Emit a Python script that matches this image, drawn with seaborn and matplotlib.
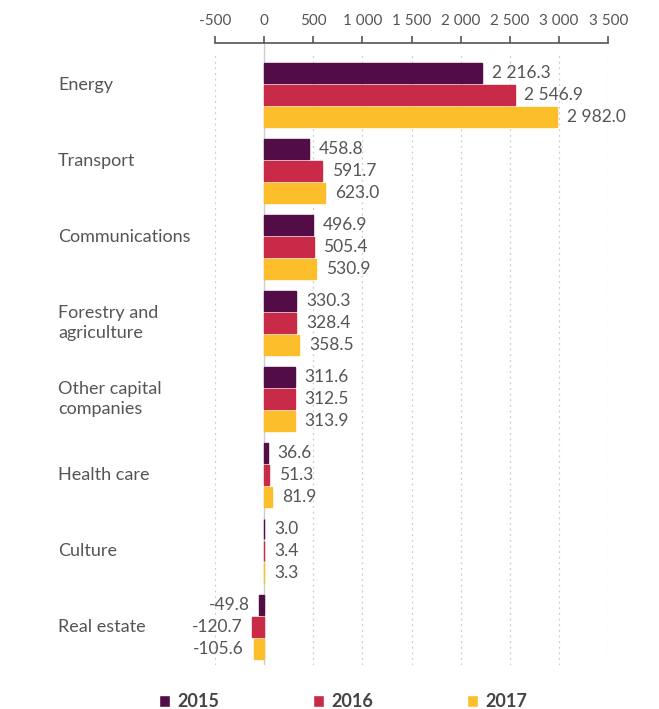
import numpy as np
import pandas as pd
import matplotlib
matplotlib.use("Agg")
import matplotlib.pyplot as plt
import matplotlib.transforms as mtransforms
from matplotlib.patches import Patch
import seaborn as sns

categories = ["Energy", "Transport", "Communications", "Forestry and\nagriculture",
              "Other capital\ncompanies", "Health care", "Culture", "Real estate"]
years = ["2015", "2016", "2017"]
v2015 = [2216.3, 458.8, 496.9, 330.3, 311.6, 36.6, 3.0, -49.8]
v2016 = [2546.9, 591.7, 505.4, 328.4, 312.5, 51.3, 3.4, -120.7]
v2017 = [2982.0, 623.0, 530.9, 358.5, 313.9, 81.9, 3.3, -105.6]
xticks = [-500, 0, 500, 1000, 1500, 2000, 2500, 3000, 3500]

colors = ["#520D46", "#C82A47", "#FDBE2C"]
txt = "#555555"


def fmt(v):
    return f"{v:,.1f}".replace(",", " ")


df = pd.DataFrame({
    "category": categories * 3,
    "year": [y for y in years for _ in categories],
    "value": v2015 + v2016 + v2017,
})

sns.set_style("white")
plt.rcParams["font.family"] = ["Lato", "DejaVu Sans"]

fig = plt.figure(figsize=(6.59, 7.09), dpi=100)
ax = fig.add_axes([0.326, 0.062, 0.597, 0.877])

sns.barplot(data=df, y="category", x="value", hue="year", order=categories,
            hue_order=years, palette=colors, orient="h", width=0.87, gap=0.1,
            saturation=1, errorbar=None, legend=False, ax=ax)

# thin edge in the bar colour so the tiny bars (Culture) stay visible
for cont, col in zip(ax.containers, colors):
    for p in cont:
        p.set_edgecolor(col)
        p.set_linewidth(1.0)
    vals = [p.get_width() for p in cont]
    ax.bar_label(cont, labels=[fmt(v) for v in vals], padding=7,
                 fontsize=12.5, color=txt)

ax.set_xlim(-500, 3500)
ax.set_ylim(7.5, -0.68)
ax.set_xticks(xticks)
ax.set_xticklabels([f"{t:,}".replace(",", " ") for t in xticks])
ax.xaxis.tick_top()
ax.tick_params(axis="x", direction="out", length=5, width=1.2, color="#555555",
               labelsize=11, labelcolor=txt, pad=6)
ax.set_yticks([])
ax.set_xlabel("")
ax.set_ylabel("")

for s in ["left", "right", "bottom"]:
    ax.spines[s].set_visible(False)
ax.spines["top"].set_color("#555555")
ax.spines["top"].set_linewidth(1.2)

for t in xticks:
    if t == 0:
        ax.axvline(0, color="#cccccc", lw=1, zorder=0)
    else:
        ax.axvline(t, ymin=0, ymax=0.985, color="#cccccc", lw=0.9,
                   ls=(0, (1.5, 3)), zorder=0)

trans = mtransforms.blended_transform_factory(fig.transFigure, ax.transData)
for i, c in enumerate(categories):
    dy = -0.13 if i < 3 else 0.0
    ax.text(0.088, i + dy, c, transform=trans, ha="left", va="center",
            fontsize=13, color=txt, linespacing=1.3)

handles = [Patch(facecolor=colors[i], label=years[i]) for i in range(3)]
leg = fig.legend(handles=handles, loc="lower left", bbox_to_anchor=(0.217, -0.025),
                 ncol=3, frameon=False, handlelength=0.6, handleheight=0.6,
                 handletextpad=0.4, columnspacing=5.2,
                 prop={"weight": "bold", "size": 13})
for t in leg.get_texts():
    t.set_color("#444444")

fig.savefig("out.png", dpi=100)
